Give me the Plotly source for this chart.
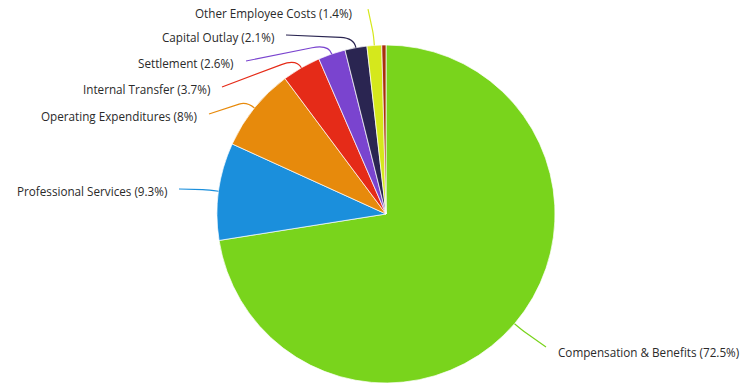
import math
import plotly.graph_objects as go

# Budget share by expense category (percent of total)
categories = [
    "Compensation & Benefits",
    "Professional Services",
    "Operating Expenditures",
    "Internal Transfer",
    "Settlement",
    "Capital Outlay",
    "Other Employee Costs",
    "Other",
]
shares = [72.5, 9.3, 8.0, 3.7, 2.6, 2.1, 1.4, 0.4]
colors = ["#79d41c", "#1b8fdc", "#e78a0c", "#e52b18", "#7a44cf",
          "#2a2551", "#d5e81c", "#a8300c"]
show_label = [True, True, True, True, True, True, True, False]

W, H = 755, 390
CX, CY, R = 386, 214, 169  # pie centre and radius in pixels

# Label text anchor (pixel x, pixel y, side) for each labelled slice
label_pos = {
    "Compensation & Benefits": (556, 352, "left"),
    "Professional Services": (169, 191, "right"),
    "Operating Expenditures": (199, 116, "right"),
    "Internal Transfer": (212, 89, "right"),
    "Settlement": (236, 63, "right"),
    "Capital Outlay": (276, 37, "right"),
    "Other Employee Costs": (354, 13, "right"),
}


def px(x, y):
    return x / W, 1 - y / H


fig = go.Figure(go.Pie(
    labels=categories,
    values=shares,
    sort=False,
    direction="clockwise",
    rotation=0,
    textinfo="none",
    hoverinfo="label+percent",
    marker=dict(colors=colors, line=dict(color="rgba(255,255,255,0.7)", width=1)),
    domain=dict(x=[(CX - R) / W, (CX + R) / W],
                y=[1 - (CY + R) / H, 1 - (CY - R) / H]),
    showlegend=False,
))

total = sum(shares)
cum = 0.0
shapes = []
annotations = []
for name, val, col, lab in zip(categories, shares, colors, show_label):
    mid = (cum + val / 2) / total * 2 * math.pi
    cum += val
    if not lab:
        continue
    dx, dy = math.sin(mid), -math.cos(mid)
    ex, ey = CX + R * dx, CY + R * dy
    kx, ky = CX + (R + 10) * dx, CY + (R + 10) * dy
    lx, ly, side = label_pos[name]
    sx = lx + 10 if side == "right" else lx - 10
    if name == "Other Employee Costs":
        sx, sy = lx + 14, ly - 4
    else:
        sy = ly - 2 if side == "right" else ly - 5
    # connector: straight run toward the knee, then a soft bend onto the rim
    t = 0.8
    bx, by = sx + (kx - sx) * t, sy + (ky - sy) * t
    pts = [px(sx, sy), px(bx, by), px(kx, ky), px(ex, ey)]
    path = "M {:.5f},{:.5f} L {:.5f},{:.5f} Q {:.5f},{:.5f} {:.5f},{:.5f}".format(
        *pts[0], *pts[1], *pts[2], *pts[3])
    shapes.append(dict(type="path", xref="paper", yref="paper", path=path,
                       line=dict(color=col, width=1.2)))
    ax, ay = px(lx, ly)
    annotations.append(dict(
        x=ax, y=ay, xref="paper", yref="paper",
        text=f"{name} ({val:g}%)", showarrow=False,
        xanchor="right" if side == "right" else "left", yanchor="middle",
        font=dict(family="Open Sans", size=11.7, color="#2a2a2a"),
    ))

fig.update_layout(
    width=W, height=H,
    margin=dict(l=0, r=0, t=0, b=0),
    paper_bgcolor="white",
    plot_bgcolor="white",
    shapes=shapes,
    annotations=annotations,
)

fig.write_html("out.html")
